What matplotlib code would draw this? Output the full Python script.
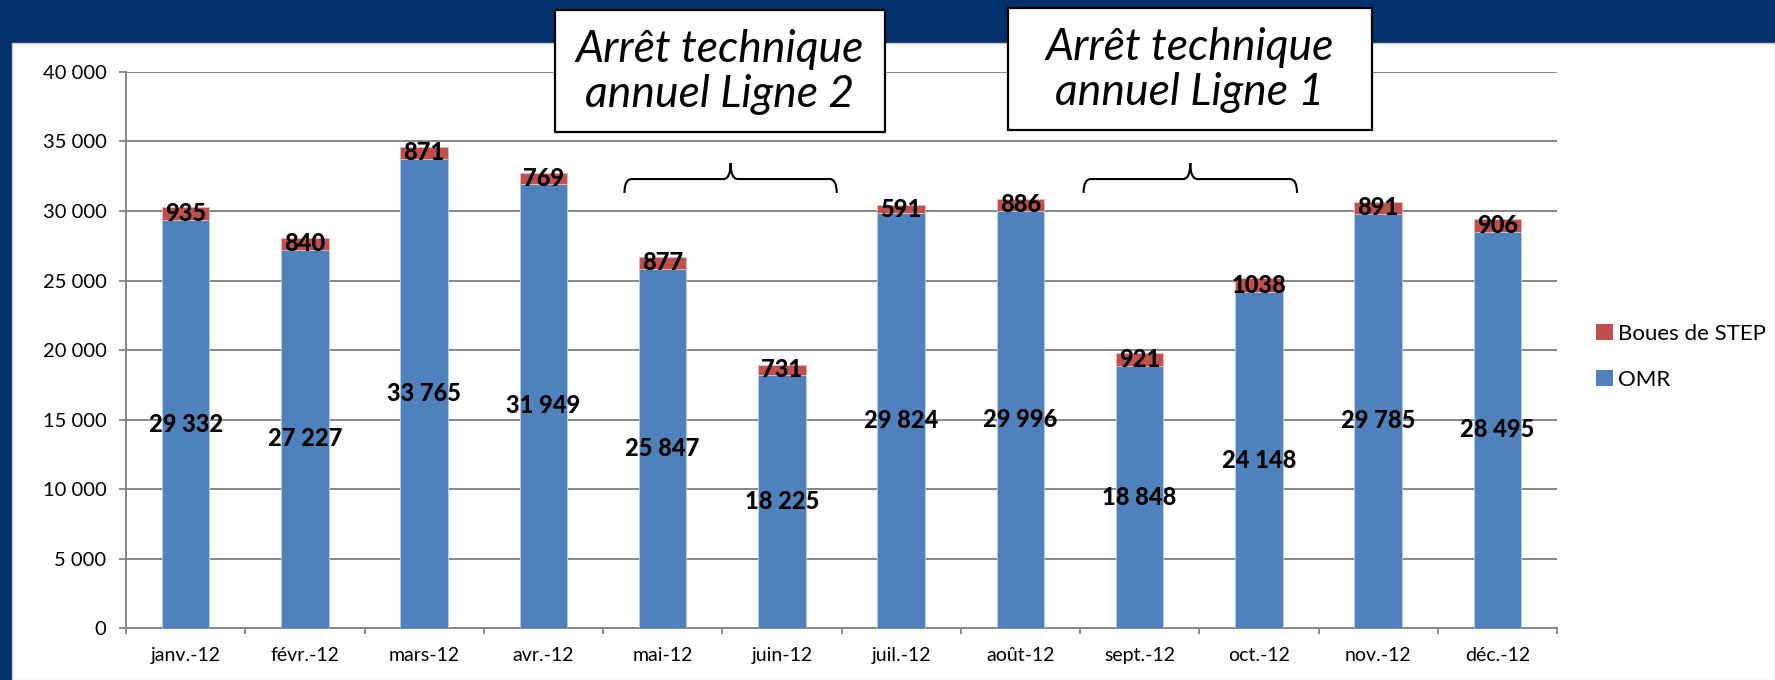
import numpy as np
import matplotlib
matplotlib.use('Agg')
import matplotlib.pyplot as plt
from matplotlib.patches import Rectangle, Patch, PathPatch
from matplotlib.path import Path

plt.rcParams['font.family'] = ['Lato', 'DejaVu Sans']

# ============================================================
# Data
# ============================================================
months = ['janv.-12', 'févr.-12', 'mars-12', 'avr.-12', 'mai-12', 'juin-12',
          'juil.-12', 'août-12', 'sept.-12', 'oct.-12', 'nov.-12', 'déc.-12']
omr = [29332, 27227, 33765, 31949, 25847, 18225, 29824, 29996, 18848, 24148, 29785, 28495]
boues = [935, 840, 871, 769, 877, 731, 591, 886, 921, 1038, 891, 906]
y_ticks = [0, 5000, 10000, 15000, 20000, 25000, 30000, 35000, 40000]
notes = ['Arrêt technique\nannuel Ligne 2', 'Arrêt technique\nannuel Ligne 1']
note_months = [('mai-12', 'juin-12'), ('sept.-12', 'oct.-12')]

# ============================================================
# Style
# ============================================================
NAVY = '#03316B'
BLUE = '#4F81BD'
RED = '#C0504D'
GRID = '#868686'
W, H = 1775, 680


def fx(px):
    return px / W


def fy(py):
    return 1 - py / H


def fmt(v):
    return f'{v:,}'.replace(',', ' ')


fig = plt.figure(figsize=(W / 100, H / 100), dpi=100, facecolor=NAVY)

# white slide panel
fig.add_artist(Rectangle((fx(12), 0), 1 - fx(12), fy(43), transform=fig.transFigure,
                         facecolor='white', edgecolor='#C8C8C8', lw=1, zorder=-10))

ax = fig.add_axes([fx(126), fy(628), fx(1557 - 126), (628 - 72) / H])
ax.set_facecolor('none')

x = np.arange(len(months))
ax.bar(x, omr, width=0.4, color=BLUE, edgecolor='#B9CDE5', lw=0.6, zorder=3, label='OMR')
ax.bar(x, boues, width=0.4, bottom=omr, color=RED, edgecolor='#E6B9B8', lw=0.6, zorder=3,
       label='Boues de STEP')

for i in range(len(months)):
    ax.text(x[i], omr[i] / 2, fmt(omr[i]), ha='center', va='center', fontsize=17,
            fontweight='black', color='black', zorder=5)
    ax.text(x[i], omr[i] + boues[i] / 2, str(boues[i]), ha='center', va='center',
            fontsize=17, fontweight='black', color='black', zorder=5)

ax.set_xlim(-0.5, len(months) - 0.5)
ax.set_ylim(0, 40000)
ax.set_yticks(y_ticks)
ax.set_yticklabels([fmt(v) for v in y_ticks])
ax.set_xticks(x)
ax.set_xticklabels(months)
ax.set_xticks(np.arange(-0.5, len(months)), minor=True)
ax.tick_params(axis='x', which='major', length=0, pad=14, labelsize=14)
ax.tick_params(axis='x', which='minor', length=4, width=1.3, color=GRID, direction='out')
ax.tick_params(axis='y', length=5, width=1.3, color=GRID, pad=9, labelsize=14.5)
ax.yaxis.grid(True, color=GRID, lw=1.4, zorder=0)
ax.set_axisbelow(True)
for s in ['top', 'right']:
    ax.spines[s].set_visible(False)
for s in ['left', 'bottom']:
    ax.spines[s].set_color(GRID)
    ax.spines[s].set_linewidth(1.4)


# braces over the shutdown months
def brace(ax, x0, x1, y_end, y_mid, y_tip, dx=0.06):
    xc = (x0 + x1) / 2
    verts = [(x0, y_end), (x0, y_mid), (x0 + dx, y_mid),
             (xc - dx, y_mid),
             (xc, y_mid), (xc, y_tip),
             (xc, y_mid), (xc + dx, y_mid),
             (x1 - dx, y_mid),
             (x1, y_mid), (x1, y_end)]
    codes = [Path.MOVETO, Path.CURVE3, Path.CURVE3, Path.LINETO,
             Path.CURVE3, Path.CURVE3, Path.CURVE3, Path.CURVE3,
             Path.LINETO, Path.CURVE3, Path.CURVE3]
    ax.add_patch(PathPatch(Path(verts, codes), facecolor='none', edgecolor='black',
                           lw=1.5, zorder=6, clip_on=False))


brace_offsets = [(-0.32, 0.46), (-0.47, 0.32)]
for (a, b), (o0, o1) in zip(note_months, brace_offsets):
    i0, i1 = months.index(a), months.index(b)
    brace(ax, i0 + o0, i1 + o1, 31300, 32300, 33450)

# note boxes (pixel layout of the slide)
box_px = [(555, 10, 885, 132), (1008, 8, 1372, 130)]
for txt, (l, t, r, b) in zip(notes, box_px):
    fig.add_artist(Rectangle((fx(l), fy(b)), fx(r - l), (b - t) / H, transform=fig.transFigure,
                             facecolor='white', edgecolor='black', lw=1.6, zorder=10))
    fig.text(fx((l + r) / 2), fy((t + b) / 2 + 1), txt, ha='center', va='center', fontsize=32,
             style='italic', linespacing=1.12, zorder=11)

fig.legend(handles=[Patch(facecolor=RED, label='Boues de STEP'),
                    Patch(facecolor=BLUE, label='OMR')],
           loc='upper left', bbox_to_anchor=(fx(1596), fy(324)), frameon=False, fontsize=16,
           handlelength=0.75, handleheight=0.75, handletextpad=0.25, labelspacing=1.15,
           borderaxespad=0, borderpad=0)

fig.savefig('out.png', dpi=100, facecolor=NAVY)
